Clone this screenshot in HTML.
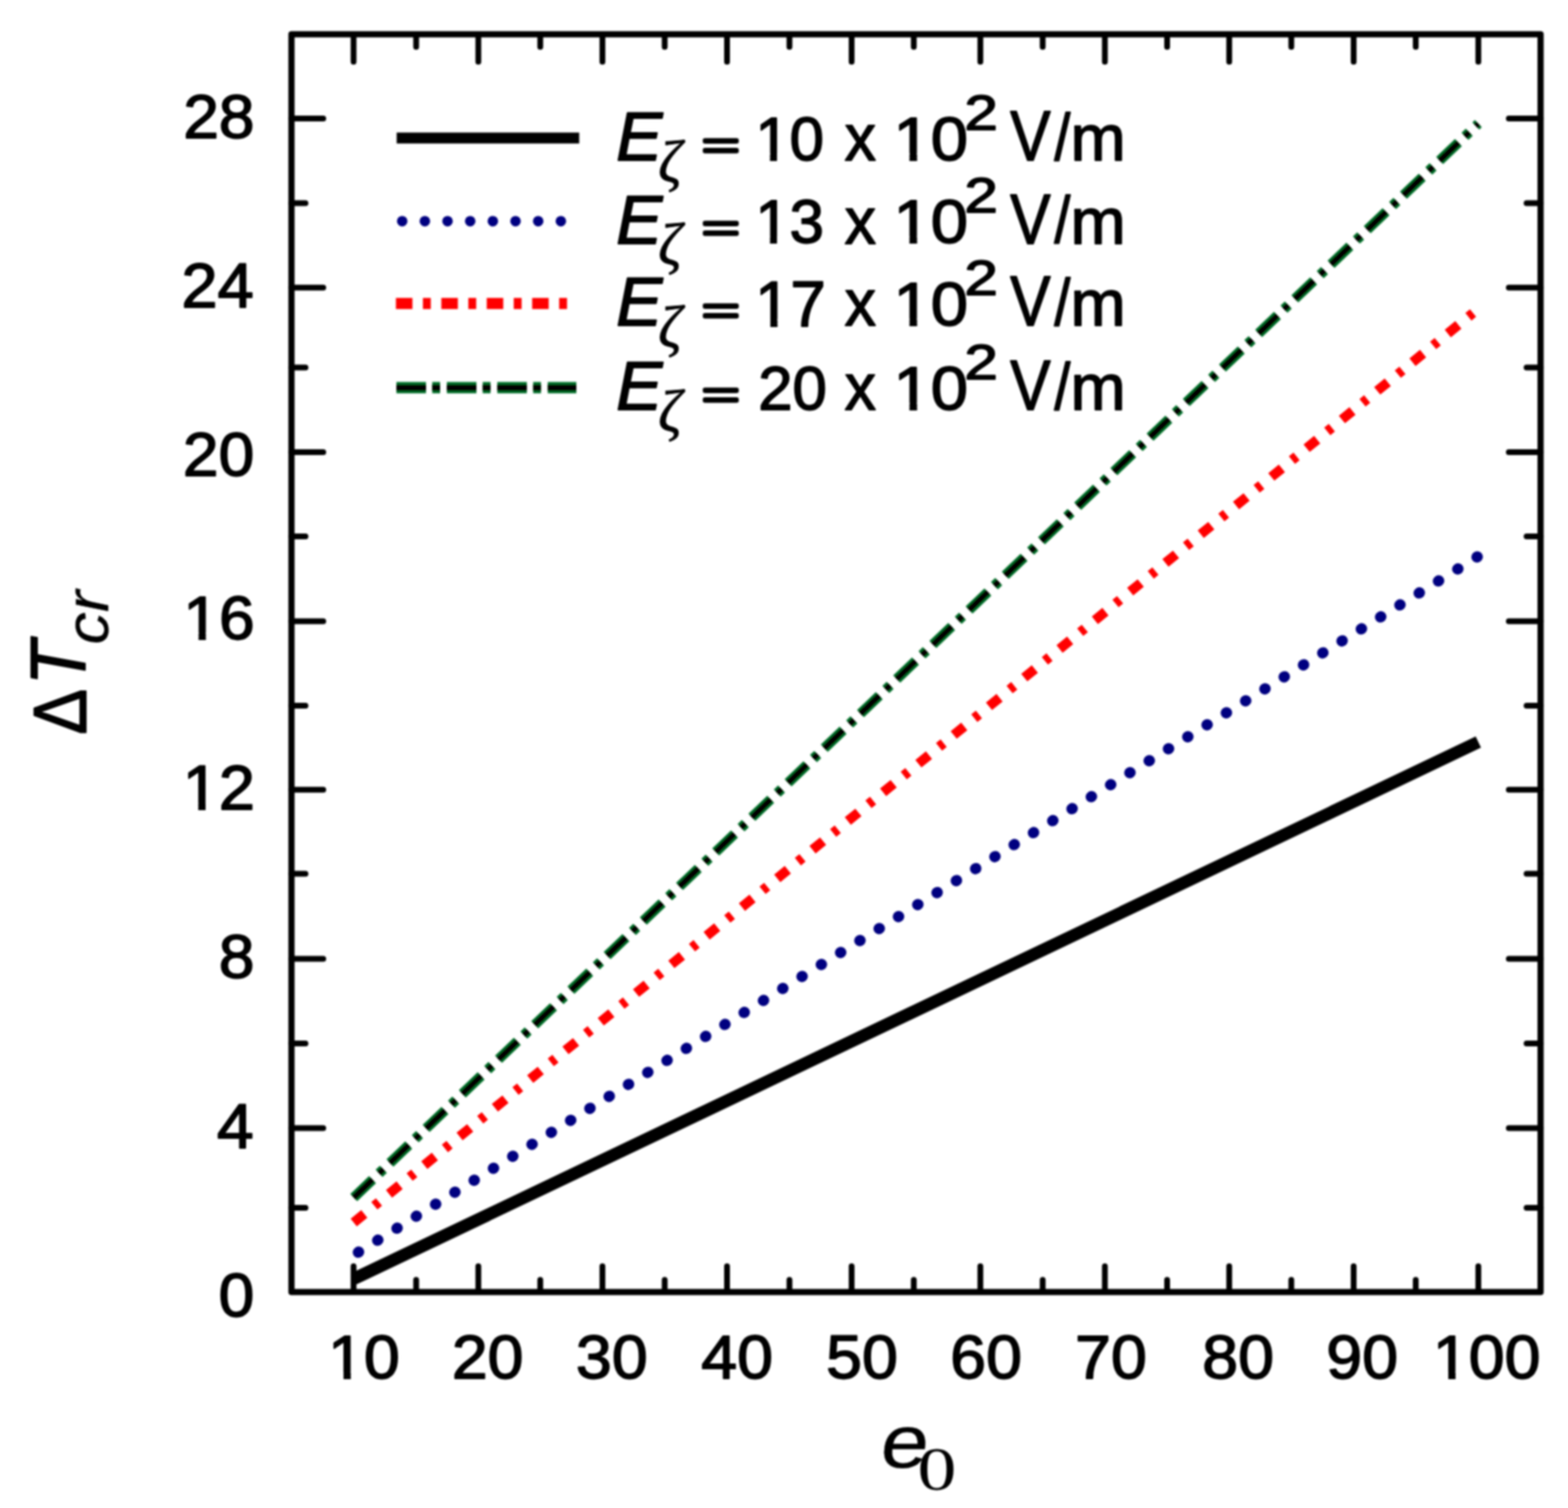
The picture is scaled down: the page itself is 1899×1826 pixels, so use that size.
<!DOCTYPE html>
<html><head><meta charset="utf-8"><title>Delta T_cr vs e_0</title>
<style>html,body{margin:0;padding:0;background:#fff;overflow:hidden}svg{display:block}</style>
</head><body>
<svg width="1899" height="1826" viewBox="0 0 1899 1826">
<defs><clipPath id="c0"><rect x="-753.32" y="-753.32" width="795.22" height="745.29"/><rect x="18.04" y="-753.32" width="8.46" height="1506.64"/><rect x="41.90" y="-753.32" width="795.22" height="1506.64"/></clipPath><clipPath id="c1"><rect x="-742.93" y="-742.93" width="784.25" height="734.98"/><rect x="17.78" y="-742.93" width="8.37" height="1485.86"/><rect x="41.32" y="-742.93" width="784.25" height="1485.86"/></clipPath><clipPath id="c2"><rect x="-747.17" y="-747.17" width="788.72" height="739.19"/><rect x="17.89" y="-747.17" width="8.40" height="1494.33"/><rect x="41.55" y="-747.17" width="788.72" height="1494.33"/></clipPath><clipPath id="c3"><rect x="-747.17" y="-747.17" width="788.72" height="739.19"/><rect x="17.89" y="-747.17" width="8.40" height="1494.33"/><rect x="41.55" y="-747.17" width="41.55" height="1494.33"/><rect x="83.11" y="-747.17" width="788.72" height="1494.33"/></clipPath><clipPath id="c4"><rect x="-748.58" y="-748.58" width="790.21" height="740.59"/><rect x="17.92" y="-748.58" width="8.42" height="1497.16"/><rect x="41.63" y="-748.58" width="790.21" height="1497.16"/></clipPath><clipPath id="c5"><rect x="-748.58" y="-748.58" width="790.21" height="740.59"/><rect x="17.92" y="-748.58" width="8.42" height="1497.16"/><rect x="41.63" y="-748.58" width="790.21" height="1497.16"/></clipPath><clipPath id="c6"><rect x="-748.58" y="-748.58" width="790.21" height="740.59"/><rect x="17.92" y="-748.58" width="8.42" height="1497.16"/><rect x="41.63" y="-748.58" width="790.21" height="1497.16"/></clipPath><clipPath id="c7"><rect x="-748.58" y="-748.58" width="790.21" height="740.59"/><rect x="17.92" y="-748.58" width="8.42" height="1497.16"/><rect x="41.63" y="-748.58" width="790.21" height="1497.16"/></clipPath><clipPath id="c8"><rect x="-770.36" y="-770.36" width="813.21" height="762.21"/><rect x="18.47" y="-770.36" width="8.61" height="1540.72"/><rect x="42.84" y="-770.36" width="813.21" height="1540.72"/></clipPath><clipPath id="c9"><rect x="-748.58" y="-748.58" width="790.21" height="740.59"/><rect x="17.92" y="-748.58" width="8.42" height="1497.16"/><rect x="41.63" y="-748.58" width="790.21" height="1497.16"/></clipPath><clipPath id="c10"><rect x="-748.58" y="-748.58" width="790.21" height="740.59"/><rect x="17.92" y="-748.58" width="8.42" height="1497.16"/><rect x="41.63" y="-748.58" width="790.21" height="1497.16"/></clipPath></defs>
<filter id="bl" x="-2%" y="-2%" width="104%" height="104%"><feGaussianBlur stdDeviation="1.1"/></filter>
<rect width="1899" height="1826" fill="#fff"/>
<g filter="url(#bl)">
<rect x="353.0" y="41.6" width="1512.80" height="1522.90" fill="none" stroke="#000" stroke-width="7.5" stroke-linejoin="round"/>
<path d="M428.20 1564.50V1533.30M428.20 41.60V74.80M504.00 1564.50V1549.70M504.00 41.60V56.80M579.30 1564.50V1533.30M579.30 41.60V74.80M654.30 1564.50V1549.70M654.30 41.60V56.80M729.60 1564.50V1533.30M729.60 41.60V74.80M805.00 1564.50V1549.70M805.00 41.60V56.80M880.50 1564.50V1533.30M880.50 41.60V74.80M956.10 1564.50V1549.70M956.10 41.60V56.80M1031.40 1564.50V1533.30M1031.40 41.60V74.80M1106.70 1564.50V1549.70M1106.70 41.60V56.80M1187.30 1564.50V1533.30M1187.30 41.60V74.80M1262.80 1564.50V1549.70M1262.80 41.60V56.80M1338.10 1564.50V1533.30M1338.10 41.60V74.80M1413.50 1564.50V1549.70M1413.50 41.60V56.80M1488.70 1564.50V1533.30M1488.70 41.60V74.80M1563.90 1564.50V1549.70M1563.90 41.60V56.80M1639.40 1564.50V1533.30M1639.40 41.60V74.80M1714.60 1564.50V1549.70M1714.60 41.60V56.80M1790.40 1564.50V1533.30M1790.40 41.60V74.80M353.00 1462.60H370.00M1865.80 1462.60H1848.80M353.00 1365.90H391.50M1865.80 1365.90H1827.30M353.00 1263.50H370.00M1865.80 1263.50H1848.80M353.00 1161.00H391.50M1865.80 1161.00H1827.30M353.00 1058.00H370.00M1865.80 1058.00H1848.80M353.00 956.20H391.50M1865.80 956.20H1827.30M353.00 854.50H370.00M1865.80 854.50H1848.80M353.00 752.20H391.50M1865.80 752.20H1827.30M353.00 649.60H370.00M1865.80 649.60H1848.80M353.00 547.50H391.50M1865.80 547.50H1827.30M353.00 445.00H370.00M1865.80 445.00H1848.80M353.00 348.30H391.50M1865.80 348.30H1827.30M353.00 246.00H370.00M1865.80 246.00H1848.80M353.00 143.50H391.50M1865.80 143.50H1827.30" stroke="#000" stroke-width="7.0" stroke-linecap="round" fill="none"/>
<path d="M428.4 1548.60L1790.4 898.60" stroke="#000" stroke-width="15" fill="none"/>
<path d="M428.4 1519.80L1790.4 673.50" stroke="#000080" stroke-width="13.4" stroke-linecap="round" stroke-dasharray="0.6 26.9" stroke-dashoffset="-6.5" fill="none"/>
<path d="M428.4 1480.30L1790.4 373.80" stroke="#ff0000" stroke-width="11.8" stroke-dasharray="16.5 15.69 7.2 15.68" fill="none"/>
<path d="M428.4 1450.10L1790.4 149.70" stroke="#00702a" stroke-width="12.2" stroke-dasharray="31.5 10.95 7.2 10.96" fill="none"/>
<path d="M428.4 1450.10L1790.4 149.70" stroke="#000" stroke-width="7" stroke-dasharray="31.5 10.95 7.2 10.96" fill="none"/>
<path d="M480.4 167.2H701.5" stroke="#000" stroke-width="13.2" fill="none"/>
<path d="M487.1 267.8H680" stroke="#000080" stroke-width="12.8" stroke-linecap="round" stroke-dasharray="0.01 27.44" fill="none"/>
<path d="M479.5 367.5H687" stroke="#ff0000" stroke-width="13.4" stroke-dasharray="20 12.7 9.5 12.8" fill="none"/>
<path d="M480.1 469.4H698" stroke="#00702a" stroke-width="13.6" stroke-dasharray="35.8 7.6 9.5 8.2" fill="none"/>
<path d="M480.1 469.4H698" stroke="#000" stroke-width="7.5" stroke-dasharray="35.8 7.6 9.5 8.2" fill="none"/>
<g style="font-kerning:none">
<text transform="translate(264.76,1593.97) scale(1.0450,1)" font-family="'Liberation Sans', sans-serif" font-style="normal" font-size="74.29" fill="#000" stroke="#000" stroke-width="1.80" stroke-linejoin="round">0</text>
<text transform="translate(262.81,1390.10) scale(1.0450,1)" font-family="'Liberation Sans', sans-serif" font-style="normal" font-size="76.45" fill="#000" stroke="#000" stroke-width="1.80" stroke-linejoin="round">4</text>
<text transform="translate(265.10,1184.37) scale(1.0450,1)" font-family="'Liberation Sans', sans-serif" font-style="normal" font-size="74.29" fill="#000" stroke="#000" stroke-width="1.80" stroke-linejoin="round">8</text>
<text transform="translate(221.30,980.10) scale(1.0450,1)" font-family="'Liberation Sans', sans-serif" font-style="normal" font-size="75.33" fill="#000" stroke="#000" stroke-width="1.80" stroke-linejoin="round" clip-path="url(#c0)">12</text>
<text transform="translate(221.96,773.97) scale(1.0450,1)" font-family="'Liberation Sans', sans-serif" font-style="normal" font-size="74.29" fill="#000" stroke="#000" stroke-width="1.80" stroke-linejoin="round" clip-path="url(#c1)">16</text>
<text transform="translate(221.58,575.67) scale(1.0450,1)" font-family="'Liberation Sans', sans-serif" font-style="normal" font-size="74.29" fill="#000" stroke="#000" stroke-width="1.80" stroke-linejoin="round">20</text>
<text transform="translate(219.64,371.90) scale(1.0450,1)" font-family="'Liberation Sans', sans-serif" font-style="normal" font-size="75.33" fill="#000" stroke="#000" stroke-width="1.80" stroke-linejoin="round">24</text>
<text transform="translate(221.92,166.77) scale(1.0450,1)" font-family="'Liberation Sans', sans-serif" font-style="normal" font-size="74.29" fill="#000" stroke="#000" stroke-width="1.80" stroke-linejoin="round">28</text>
<text transform="translate(397.35,1668.77) scale(1.0450,1)" font-family="'Liberation Sans', sans-serif" font-style="normal" font-size="74.72" fill="#000" stroke="#000" stroke-width="1.80" stroke-linejoin="round" clip-path="url(#c2)">10</text>
<text transform="translate(547.14,1668.77) scale(1.0450,1)" font-family="'Liberation Sans', sans-serif" font-style="normal" font-size="74.72" fill="#000" stroke="#000" stroke-width="1.80" stroke-linejoin="round">20</text>
<text transform="translate(697.61,1668.77) scale(1.0450,1)" font-family="'Liberation Sans', sans-serif" font-style="normal" font-size="74.72" fill="#000" stroke="#000" stroke-width="1.80" stroke-linejoin="round">30</text>
<text transform="translate(849.21,1668.77) scale(1.0450,1)" font-family="'Liberation Sans', sans-serif" font-style="normal" font-size="74.72" fill="#000" stroke="#000" stroke-width="1.80" stroke-linejoin="round">40</text>
<text transform="translate(1000.54,1668.77) scale(1.0450,1)" font-family="'Liberation Sans', sans-serif" font-style="normal" font-size="74.72" fill="#000" stroke="#000" stroke-width="1.80" stroke-linejoin="round">50</text>
<text transform="translate(1150.82,1668.77) scale(1.0450,1)" font-family="'Liberation Sans', sans-serif" font-style="normal" font-size="74.72" fill="#000" stroke="#000" stroke-width="1.80" stroke-linejoin="round">60</text>
<text transform="translate(1302.10,1668.77) scale(1.0450,1)" font-family="'Liberation Sans', sans-serif" font-style="normal" font-size="74.72" fill="#000" stroke="#000" stroke-width="1.80" stroke-linejoin="round">70</text>
<text transform="translate(1456.10,1668.77) scale(1.0450,1)" font-family="'Liberation Sans', sans-serif" font-style="normal" font-size="74.72" fill="#000" stroke="#000" stroke-width="1.80" stroke-linejoin="round">80</text>
<text transform="translate(1606.27,1668.77) scale(1.0450,1)" font-family="'Liberation Sans', sans-serif" font-style="normal" font-size="74.72" fill="#000" stroke="#000" stroke-width="1.80" stroke-linejoin="round">90</text>
<text transform="translate(1735.33,1668.77) scale(1.0450,1)" font-family="'Liberation Sans', sans-serif" font-style="normal" font-size="74.72" fill="#000" stroke="#000" stroke-width="1.80" stroke-linejoin="round" clip-path="url(#c3)">100</text>
<text transform="translate(746.32,194.00) scale(0.9960,1)" font-family="'Liberation Sans', sans-serif" font-style="italic" font-size="84.30" fill="#000" stroke="#000" stroke-width="1.80" stroke-linejoin="round">E</text>
<text transform="translate(797.24,219.88) scale(0.9687,1)" font-family="'Liberation Serif', serif" font-style="italic" font-size="72.24" fill="#000" stroke="#000" stroke-width="1.00" stroke-linejoin="round">ζ</text>
<text transform="translate(850.30,191.51) scale(1.6941,1)" font-family="'Liberation Sans', sans-serif" font-style="normal" font-size="45.92" fill="#000" stroke="#000" stroke-width="3.40" stroke-linejoin="round">=</text>
<text transform="translate(914.70,193.57) scale(1.0000,1)" font-family="'Liberation Sans', sans-serif" font-style="normal" font-size="74.86" fill="#000" stroke="#000" stroke-width="1.80" stroke-linejoin="round" clip-path="url(#c4)">10</text>
<text transform="translate(1023.05,194.10) scale(0.9481,1)" font-family="'Liberation Sans', sans-serif" font-style="normal" font-size="79.88" fill="#000" stroke="#000" stroke-width="1.80" stroke-linejoin="round">x</text>
<text transform="translate(1082.10,193.57) scale(1.0829,1)" font-family="'Liberation Sans', sans-serif" font-style="normal" font-size="74.86" fill="#000" stroke="#000" stroke-width="1.80" stroke-linejoin="round" clip-path="url(#c5)">10</text>
<text transform="translate(1167.93,156.50) scale(1.2174,1)" font-family="'Liberation Sans', sans-serif" font-style="normal" font-size="59.86" fill="#000" stroke="#000" stroke-width="1.80" stroke-linejoin="round">2</text>
<text transform="translate(1223.58,194.00) scale(0.8642,1)" font-family="'Liberation Sans', sans-serif" font-style="normal" font-size="84.74" fill="#000" stroke="#000" stroke-width="1.80" stroke-linejoin="round">V</text>
<text transform="translate(1276.90,193.83) scale(0.8720,1)" font-family="'Liberation Sans', sans-serif" font-style="normal" font-size="79.25" fill="#000" stroke="#000" stroke-width="1.80" stroke-linejoin="round">/</text>
<text transform="translate(1296.57,194.10) scale(1.0227,1)" font-family="'Liberation Sans', sans-serif" font-style="normal" font-size="78.43" fill="#000" stroke="#000" stroke-width="1.80" stroke-linejoin="round">m</text>
<text transform="translate(746.32,294.60) scale(0.9960,1)" font-family="'Liberation Sans', sans-serif" font-style="italic" font-size="84.30" fill="#000" stroke="#000" stroke-width="1.80" stroke-linejoin="round">E</text>
<text transform="translate(797.24,320.48) scale(0.9687,1)" font-family="'Liberation Serif', serif" font-style="italic" font-size="72.24" fill="#000" stroke="#000" stroke-width="1.00" stroke-linejoin="round">ζ</text>
<text transform="translate(850.30,292.11) scale(1.6941,1)" font-family="'Liberation Sans', sans-serif" font-style="normal" font-size="45.92" fill="#000" stroke="#000" stroke-width="3.40" stroke-linejoin="round">=</text>
<text transform="translate(914.70,294.17) scale(1.0000,1)" font-family="'Liberation Sans', sans-serif" font-style="normal" font-size="74.86" fill="#000" stroke="#000" stroke-width="1.80" stroke-linejoin="round" clip-path="url(#c6)">13</text>
<text transform="translate(1023.05,294.70) scale(0.9481,1)" font-family="'Liberation Sans', sans-serif" font-style="normal" font-size="79.88" fill="#000" stroke="#000" stroke-width="1.80" stroke-linejoin="round">x</text>
<text transform="translate(1082.10,294.17) scale(1.0829,1)" font-family="'Liberation Sans', sans-serif" font-style="normal" font-size="74.86" fill="#000" stroke="#000" stroke-width="1.80" stroke-linejoin="round" clip-path="url(#c7)">10</text>
<text transform="translate(1167.93,257.10) scale(1.2174,1)" font-family="'Liberation Sans', sans-serif" font-style="normal" font-size="59.86" fill="#000" stroke="#000" stroke-width="1.80" stroke-linejoin="round">2</text>
<text transform="translate(1223.58,294.60) scale(0.8642,1)" font-family="'Liberation Sans', sans-serif" font-style="normal" font-size="84.74" fill="#000" stroke="#000" stroke-width="1.80" stroke-linejoin="round">V</text>
<text transform="translate(1276.90,294.43) scale(0.8720,1)" font-family="'Liberation Sans', sans-serif" font-style="normal" font-size="79.25" fill="#000" stroke="#000" stroke-width="1.80" stroke-linejoin="round">/</text>
<text transform="translate(1296.57,294.70) scale(1.0227,1)" font-family="'Liberation Sans', sans-serif" font-style="normal" font-size="78.43" fill="#000" stroke="#000" stroke-width="1.80" stroke-linejoin="round">m</text>
<text transform="translate(746.32,394.30) scale(0.9960,1)" font-family="'Liberation Sans', sans-serif" font-style="italic" font-size="84.30" fill="#000" stroke="#000" stroke-width="1.80" stroke-linejoin="round">E</text>
<text transform="translate(797.24,420.18) scale(0.9687,1)" font-family="'Liberation Serif', serif" font-style="italic" font-size="72.24" fill="#000" stroke="#000" stroke-width="1.00" stroke-linejoin="round">ζ</text>
<text transform="translate(850.30,391.81) scale(1.6941,1)" font-family="'Liberation Sans', sans-serif" font-style="normal" font-size="45.92" fill="#000" stroke="#000" stroke-width="3.40" stroke-linejoin="round">=</text>
<text transform="translate(914.49,394.60) scale(1.0000,1)" font-family="'Liberation Sans', sans-serif" font-style="normal" font-size="77.04" fill="#000" stroke="#000" stroke-width="1.80" stroke-linejoin="round" clip-path="url(#c8)">17</text>
<text transform="translate(1023.05,394.40) scale(0.9481,1)" font-family="'Liberation Sans', sans-serif" font-style="normal" font-size="79.88" fill="#000" stroke="#000" stroke-width="1.80" stroke-linejoin="round">x</text>
<text transform="translate(1082.10,393.87) scale(1.0829,1)" font-family="'Liberation Sans', sans-serif" font-style="normal" font-size="74.86" fill="#000" stroke="#000" stroke-width="1.80" stroke-linejoin="round" clip-path="url(#c9)">10</text>
<text transform="translate(1167.93,356.80) scale(1.2174,1)" font-family="'Liberation Sans', sans-serif" font-style="normal" font-size="59.86" fill="#000" stroke="#000" stroke-width="1.80" stroke-linejoin="round">2</text>
<text transform="translate(1223.58,394.30) scale(0.8642,1)" font-family="'Liberation Sans', sans-serif" font-style="normal" font-size="84.74" fill="#000" stroke="#000" stroke-width="1.80" stroke-linejoin="round">V</text>
<text transform="translate(1276.90,394.13) scale(0.8720,1)" font-family="'Liberation Sans', sans-serif" font-style="normal" font-size="79.25" fill="#000" stroke="#000" stroke-width="1.80" stroke-linejoin="round">/</text>
<text transform="translate(1296.57,394.40) scale(1.0227,1)" font-family="'Liberation Sans', sans-serif" font-style="normal" font-size="78.43" fill="#000" stroke="#000" stroke-width="1.80" stroke-linejoin="round">m</text>
<text transform="translate(746.32,496.20) scale(0.9960,1)" font-family="'Liberation Sans', sans-serif" font-style="italic" font-size="84.30" fill="#000" stroke="#000" stroke-width="1.80" stroke-linejoin="round">E</text>
<text transform="translate(797.24,522.08) scale(0.9687,1)" font-family="'Liberation Serif', serif" font-style="italic" font-size="72.24" fill="#000" stroke="#000" stroke-width="1.00" stroke-linejoin="round">ζ</text>
<text transform="translate(850.30,493.71) scale(1.6941,1)" font-family="'Liberation Sans', sans-serif" font-style="normal" font-size="45.92" fill="#000" stroke="#000" stroke-width="3.40" stroke-linejoin="round">=</text>
<text transform="translate(918.14,495.77) scale(1.0000,1)" font-family="'Liberation Sans', sans-serif" font-style="normal" font-size="74.86" fill="#000" stroke="#000" stroke-width="1.80" stroke-linejoin="round">20</text>
<text transform="translate(1023.05,496.30) scale(0.9481,1)" font-family="'Liberation Sans', sans-serif" font-style="normal" font-size="79.88" fill="#000" stroke="#000" stroke-width="1.80" stroke-linejoin="round">x</text>
<text transform="translate(1082.10,495.77) scale(1.0829,1)" font-family="'Liberation Sans', sans-serif" font-style="normal" font-size="74.86" fill="#000" stroke="#000" stroke-width="1.80" stroke-linejoin="round" clip-path="url(#c10)">10</text>
<text transform="translate(1167.93,458.70) scale(1.2174,1)" font-family="'Liberation Sans', sans-serif" font-style="normal" font-size="59.86" fill="#000" stroke="#000" stroke-width="1.80" stroke-linejoin="round">2</text>
<text transform="translate(1223.58,496.20) scale(0.8642,1)" font-family="'Liberation Sans', sans-serif" font-style="normal" font-size="84.74" fill="#000" stroke="#000" stroke-width="1.80" stroke-linejoin="round">V</text>
<text transform="translate(1276.90,496.03) scale(0.8720,1)" font-family="'Liberation Sans', sans-serif" font-style="normal" font-size="79.25" fill="#000" stroke="#000" stroke-width="1.80" stroke-linejoin="round">/</text>
<text transform="translate(1296.57,496.30) scale(1.0227,1)" font-family="'Liberation Sans', sans-serif" font-style="normal" font-size="78.43" fill="#000" stroke="#000" stroke-width="1.80" stroke-linejoin="round">m</text>
<text transform="translate(104.10,889.56) rotate(-90) scale(0.9134,1)" font-family="'Liberation Sans', sans-serif" font-style="normal" font-size="90.41" fill="#000" stroke="#000" stroke-width="1.80" stroke-linejoin="round">Δ</text>
<text transform="translate(102.60,829.57) rotate(-90) scale(0.9312,1)" font-family="'Liberation Sans', sans-serif" font-style="italic" font-size="94.04" fill="#000" stroke="#000" stroke-width="1.80" stroke-linejoin="round">T</text>
<text transform="translate(131.12,780.41) rotate(-90) scale(1.0540,1)" font-family="'Liberation Sans', sans-serif" font-style="italic" font-size="74.29" fill="#000" stroke="#000" stroke-width="0.30" stroke-linejoin="round">cr</text>
<text transform="translate(1063.42,1777.31) skewX(-8) scale(1.1442,1)" font-family="'Liberation Sans', sans-serif" font-style="normal" font-size="90.90" fill="#000" stroke="#000" stroke-width="0.40" stroke-linejoin="round">e</text>
<text transform="translate(1110.99,1804.29) scale(1.2983,1)" font-family="'Liberation Serif', serif" font-style="normal" font-size="73.06" fill="#000">0</text>
</g>
</g>
</svg>
</body></html>
